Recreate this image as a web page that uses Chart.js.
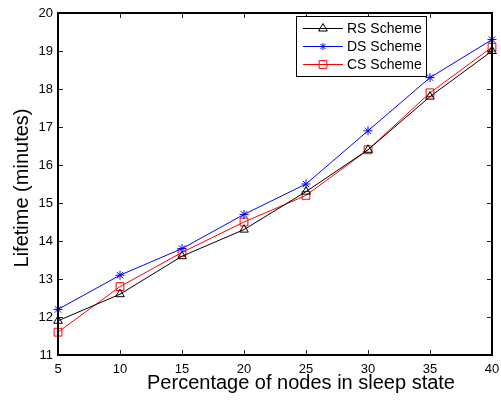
<!DOCTYPE html>
<html>
<head>
<meta charset="utf-8">
<script src="https://cdn.jsdelivr.net/npm/chart.js@4/dist/chart.umd.min.js"></script>
<style>
  html, body { margin: 0; padding: 0; background: #fff; }
  #wrap { width: 501px; height: 401px; }
</style>
</head>
<body>
<div id="wrap"><canvas id="lifetime" width="501" height="401"></canvas></div>
<script>
// x values: percentage of nodes in sleep state
const sleepPct = [5, 10, 15, 20, 25, 30, 35, 40]
// lifetime in minutes
const rsLifetime = [11.9, 12.6, 13.6, 14.3, 15.3, 16.4, 17.8, 19.0]
const dsLifetime = [12.2, 13.1, 13.8, 14.7, 15.5, 16.9, 18.3, 19.3]
const csLifetime = [11.6, 12.8, 13.7, 14.5, 15.2, 16.4, 17.9, 19.1]
const seriesNames = ["RS Scheme", "DS Scheme", "CS Scheme"]
const xTicks = [5, 10, 15, 20, 25, 30, 35, 40]
const yTicks = [11, 12, 13, 14, 15, 16, 17, 18, 19, 20]

const FONT = "'Liberation Sans', Arial, Helvetica, sans-serif"

function toPoints(vals) {
    return vals.map((v, i) => ({ x: sleepPct[i], y: v }))
}

const styles = [
    { color: "#000000", point: "triangle", radius: 5 },
    { color: "#0000ff", point: "star", radius: 4.5 },
    { color: "#ff0000", point: "rect", radius: 5.5 }
]
const allData = [rsLifetime, dsLifetime, csLifetime]

const datasets = allData.map((vals, i) => ({
    label: seriesNames[i],
    data: toPoints(vals),
    borderColor: styles[i].color,
    borderWidth: 1,
    pointStyle: styles[i].point,
    pointRadius: styles[i].radius,
    pointBorderColor: styles[i].color,
    pointBackgroundColor: "rgba(0,0,0,0)",
    pointBorderWidth: 1,
    tension: 0,
    clip: false
}))

// box, inward ticks, titles and legend in matlab style
const matlabLook = {
    id: "matlabLook",
    beforeDatasetsDraw(chart) {
        const ctx = chart.ctx
        const a = chart.chartArea
        const xs = chart.scales.x
        const ys = chart.scales.y
        ctx.save()
        // inward ticks
        ctx.strokeStyle = "#222"
        ctx.lineWidth = 1
        const tl = 5
        ctx.beginPath()
        xTicks.forEach(t => {
            const px = Math.round(xs.getPixelForValue(t)) + 0.5
            ctx.moveTo(px, a.bottom); ctx.lineTo(px, a.bottom - tl)
            ctx.moveTo(px, a.top); ctx.lineTo(px, a.top + tl)
        })
        yTicks.forEach(t => {
            const py = Math.round(ys.getPixelForValue(t)) + 0.5
            ctx.moveTo(a.left, py); ctx.lineTo(a.left + tl, py)
            ctx.moveTo(a.right, py); ctx.lineTo(a.right - tl, py)
        })
        ctx.stroke()
        ctx.restore()
    },
    afterDatasetsDraw(chart) {
        const ctx = chart.ctx
        const a = chart.chartArea
        ctx.save()
        // axes box
        ctx.strokeStyle = "#000"
        ctx.lineWidth = 2
        ctx.strokeRect(a.left, a.top, a.right - a.left, a.bottom - a.top)

        // axis titles
        ctx.fillStyle = "#000"
        ctx.font = "20px " + FONT
        ctx.textAlign = "center"
        ctx.textBaseline = "middle"
        ctx.fillText("Percentage of nodes in sleep state", 301, 383)
        ctx.save()
        ctx.translate(22, (a.top + a.bottom) / 2 + 4)
        ctx.rotate(-Math.PI / 2)
        ctx.fillText("Lifetime (minutes)", 0, 0)
        ctx.restore()

        // legend box
        const lx = 296, ly = 16, lw = 130, lh = 60
        ctx.fillStyle = "#fff"
        ctx.fillRect(lx, ly, lw, lh)
        ctx.strokeStyle = "#000"
        ctx.lineWidth = 1
        ctx.strokeRect(lx + 0.5, ly + 0.5, lw, lh)
        ctx.font = "14px " + FONT
        ctx.textAlign = "left"
        ctx.textBaseline = "middle"
        const rows = [28.5, 46.5, 64.5]
        datasets.forEach((ds, i) => {
            const y = rows[i]
            ctx.strokeStyle = ds.borderColor
            ctx.lineWidth = 1
            ctx.beginPath()
            ctx.moveTo(303, y); ctx.lineTo(343, y)
            ctx.stroke()
            ctx.fillStyle = "rgba(0,0,0,0)"
            Chart.helpers.drawPoint(ctx, {
                pointStyle: ds.pointStyle,
                radius: ds.pointStyle === "star" ? 3.5 : ds.pointRadius,
                borderWidth: 1,
                rotation: 0
            }, 323, y)
            ctx.fillStyle = "#000"
            ctx.fillText(ds.label, 347, y + 1)
        })
        ctx.restore()
    }
}

new Chart(document.getElementById("lifetime"), {
    type: "line",
    data: { datasets: datasets },
    options: {
        responsive: false,
        animation: false,
        layout: { padding: { left: 0, right: 9, top: 13, bottom: 0 } },
        plugins: {
            legend: { display: false },
            tooltip: { enabled: false }
        },
        scales: {
            x: {
                type: "linear",
                min: 5,
                max: 40,
                afterFit(scale) {
                    scale.height = 46
                    scale.paddingLeft = 0
                    scale.paddingRight = 0
                },
                afterBuildTicks(scale) { scale.ticks = xTicks.map(v => ({ value: v })) },
                grid: { display: false, drawTicks: false },
                border: { display: false },
                ticks: {
                    color: "#000",
                    padding: 7,
                    font: { family: FONT, size: 13 }
                }
            },
            y: {
                type: "linear",
                min: 11,
                max: 20,
                afterFit(scale) {
                    scale.width = 58
                    scale.paddingTop = 0
                    scale.paddingBottom = 0
                },
                afterBuildTicks(scale) { scale.ticks = yTicks.map(v => ({ value: v })) },
                grid: { display: false, drawTicks: false },
                border: { display: false },
                ticks: {
                    color: "#000",
                    padding: 5,
                    font: { family: FONT, size: 13 }
                }
            }
        }
    },
    plugins: [matlabLook]
})
</script>
</body>
</html>
